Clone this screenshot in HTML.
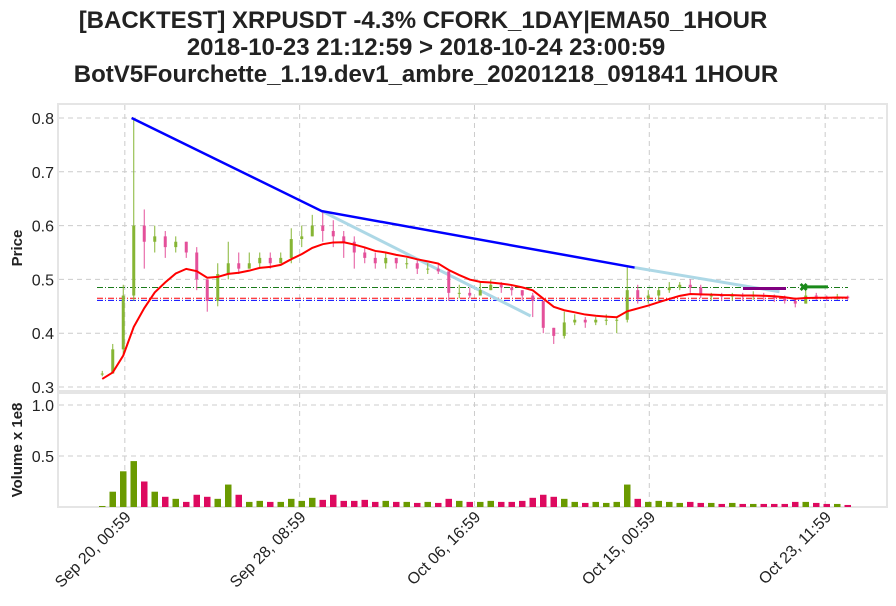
<!DOCTYPE html>
<html><head><meta charset="utf-8"><style>
html,body{margin:0;padding:0;background:#fff;}
svg{display:block;font-family:"Liberation Sans",sans-serif;}
</style></head><body>
<svg id="chart" width="896" height="606" viewBox="0 0 896 606">
<g font-weight="bold" font-size="24" fill="#222" text-anchor="middle">
<text x="423" y="28">[BACKTEST] XRPUSDT -4.3% CFORK_1DAY|EMA50_1HOUR</text>
<text x="426" y="55">2018-10-23 21:12:59 &gt; 2018-10-24 23:00:59</text>
<text x="426" y="82">BotV5Fourchette_1.19.dev1_ambre_20201218_091841 1HOUR</text>
</g>
<rect x="58" y="104" width="829" height="287" fill="none" stroke="#e5e5e5" stroke-width="2"/>
<rect x="58" y="393" width="829" height="114" fill="none" stroke="#e5e5e5" stroke-width="2"/>
<text transform="translate(22,248) rotate(-90)" text-anchor="middle" font-size="15" font-weight="bold" fill="#222">Price</text>
<text transform="translate(22,450) rotate(-90)" text-anchor="middle" font-size="15" font-weight="bold" fill="#222">Volume x 1e8</text>
<g id="grid"></g><g id="marks"></g><g id="labels"></g>
</svg>
<script>
const priceTicks=[0.3,0.4,0.5,0.6,0.7,0.8];
const volTicks=[0.5,1.0];
const timeTickLabels=["Sep 20, 00:59","Sep 28, 08:59","Oct 06, 16:59","Oct 15, 00:59","Oct 23, 11:59"];
const timeTickIdx=[2.65,19.3,35.95,52.6,69.35];
const highs=[.33,.38,.49,.80,.63,.60,.59,.58,.57,.56,.49,.53,.57,.55,.55,.55,.55,.55,.595,.60,.62,.625,.61,.59,.58,.56,.55,.55,.54,.54,.535,.53,.53,.515,.49,.485,.495,.50,.495,.49,.48,.475,.46,.41,.44,.435,.43,.43,.435,.43,.525,.49,.48,.485,.495,.495,.50,.49,.475,.475,.475,.475,.478,.475,.472,.47,.465,.48,.475,.47,.473,.47];
const lows=[.32,.325,.36,.46,.52,.55,.54,.55,.54,.48,.44,.45,.50,.51,.52,.52,.52,.53,.53,.56,.58,.57,.56,.54,.52,.53,.52,.52,.52,.52,.51,.51,.51,.46,.465,.465,.47,.48,.475,.47,.46,.43,.40,.38,.39,.415,.41,.415,.415,.40,.42,.455,.455,.46,.475,.48,.475,.465,.46,.46,.46,.46,.462,.46,.458,.455,.448,.455,.462,.46,.462,.462];
const closes=[.325,.37,.47,.60,.57,.58,.56,.57,.55,.50,.46,.51,.53,.52,.53,.54,.53,.54,.575,.58,.60,.59,.58,.57,.55,.54,.53,.54,.53,.53,.52,.52,.515,.475,.475,.47,.48,.49,.485,.48,.47,.46,.41,.395,.42,.425,.42,.425,.425,.425,.48,.465,.47,.48,.485,.49,.485,.47,.47,.468,.47,.468,.47,.468,.465,.46,.455,.47,.468,.466,.468,.465];
const volumes=[.01,.15,.35,.45,.25,.15,.1,.08,.05,.12,.1,.08,.22,.12,.05,.06,.05,.05,.08,.06,.09,.07,.12,.06,.06,.07,.05,.06,.05,.05,.04,.05,.04,.08,.06,.05,.05,.06,.05,.05,.06,.09,.12,.1,.08,.05,.04,.05,.04,.05,.22,.08,.05,.06,.05,.04,.05,.04,.04,.03,.04,.03,.03,.03,.03,.03,.05,.05,.04,.03,.03,.02];
const hLevels=[0.485,0.465,0.461];
const hColors=["#1a7a1a","#ff0000","#0000ff"];
const trendIdx=[3.3,21.4,51.2];
const trendVal=[0.80,0.627,0.522];
const lightIdx=[[21.4,41.3],[51.2,65.0]];
const lightVal=[[0.627,0.432],[0.522,0.477]];
const ns="http://www.w3.org/2000/svg";
const X0=97,STEP=10.5;
function xOf(i){return X0+i*STEP;}
function yP(p){return 387-(p-0.3)*538;}
function yV(v){return 507-v*102;}
function mk(tag,attrs,parent){const e=document.createElementNS(ns,tag);for(const k in attrs)e.setAttribute(k,attrs[k]);parent.appendChild(e);return e;}
const grid=document.getElementById('grid'),marks=document.getElementById('marks'),labels=document.getElementById('labels');
priceTicks.forEach(p=>{
 const l=mk('line',{x1:59,x2:886,y1:yP(p),y2:yP(p),stroke:'#cccccc','stroke-dasharray':'5,4'},grid);
 
 
 const t=mk('text',{x:54,y:yP(p)+6,'text-anchor':'end','font-size':16,fill:'#222'},labels);
 t.textContent=p.toFixed(1);
 
 
});
volTicks.forEach(v=>{
 const l=mk('line',{x1:59,x2:886,y1:yV(v),y2:yV(v),stroke:'#cccccc','stroke-dasharray':'5,4'},grid);
 
 
 const t=mk('text',{x:54,y:yV(v)+6,'text-anchor':'end','font-size':16,fill:'#222'},labels);
 t.textContent=v.toFixed(1);
 
 
});
timeTickIdx.forEach((ti,k)=>{
 const x=xOf(ti);
 const l=mk('line',{x1:x,x2:x,y1:105,y2:506,stroke:'#cccccc','stroke-dasharray':'5,4'},grid);
 
 
 const t=mk('text',{transform:`translate(${x+7},${518}) rotate(-45)`,'text-anchor':'end','font-size':16,fill:'#222'},labels);
 t.textContent=timeTickLabels[k];
 
 
});
closes.forEach((c,i)=>{
 const o=i?closes[i-1]:c;
 const up=c>=o;
 const r=mk('rect',{x:xOf(i)+2,y:yV(volumes[i]),width:STEP-4,height:507-yV(volumes[i]),fill:up?'#6a9a00':'#dd0a5f'},marks);
 
 
});
hLevels.forEach((h,k)=>{
 const l=mk('line',{x1:97,x2:848,y1:yP(h),y2:yP(h),stroke:hColors[k],'stroke-width':1,'stroke-dasharray':'6,2,1,2'},marks);
 
 
});
lightIdx.forEach((seg,k)=>{
 const l=mk('line',{x1:xOf(seg[0]),x2:xOf(seg[1]),y1:yP(lightVal[k][0]),y2:yP(lightVal[k][1]),stroke:'#add8e6','stroke-width':3},marks);
 
 
});
closes.forEach((c,i)=>{
 const o=i?closes[i-1]:c;
 const up=c>=o;
 const col=up?'#86b534':'#e4509a';
 const cx=xOf(i)+STEP/2;
 const w=mk('line',{x1:cx,x2:cx,y1:yP(highs[i]),y2:yP(lows[i]),stroke:col,'stroke-width':1},marks);
 
 
 const top=yP(Math.max(o,c)),bot=yP(Math.min(o,c));
 const b=mk('rect',{x:cx-1.5,y:top,width:3,height:Math.max(1,bot-top),fill:col},marks);
 
 
});
let ema=[],e=closes[0]-0.01;const a=0.22;
closes.forEach((c,i)=>{e=i?e+a*(c-e):e;ema.push(e);});
const ep=mk('polyline',{points:ema.map((v,i)=>`${xOf(i)+STEP/2},${yP(v)}`).join(' '),fill:'none',stroke:'#ff0000','stroke-width':2},marks);


const tl=mk('polyline',{points:trendIdx.map((t,i)=>`${xOf(t)},${yP(trendVal[i])}`).join(' '),fill:'none',stroke:'#0000ff','stroke-width':2.5},marks);


const pm=mk('line',{x1:743,x2:786,y1:yP(0.483),y2:yP(0.483),stroke:'#800080','stroke-width':3},marks);


const gm=mk('line',{x1:802,x2:828,y1:yP(0.486),y2:yP(0.486),stroke:'#1a8a1a','stroke-width':3},marks);


const gx=mk('text',{x:799,y:yP(0.486)+4,'font-size':11,'font-weight':'bold',fill:'#1a8a1a'},marks);
gx.textContent='✖';


</script>
</body></html>
